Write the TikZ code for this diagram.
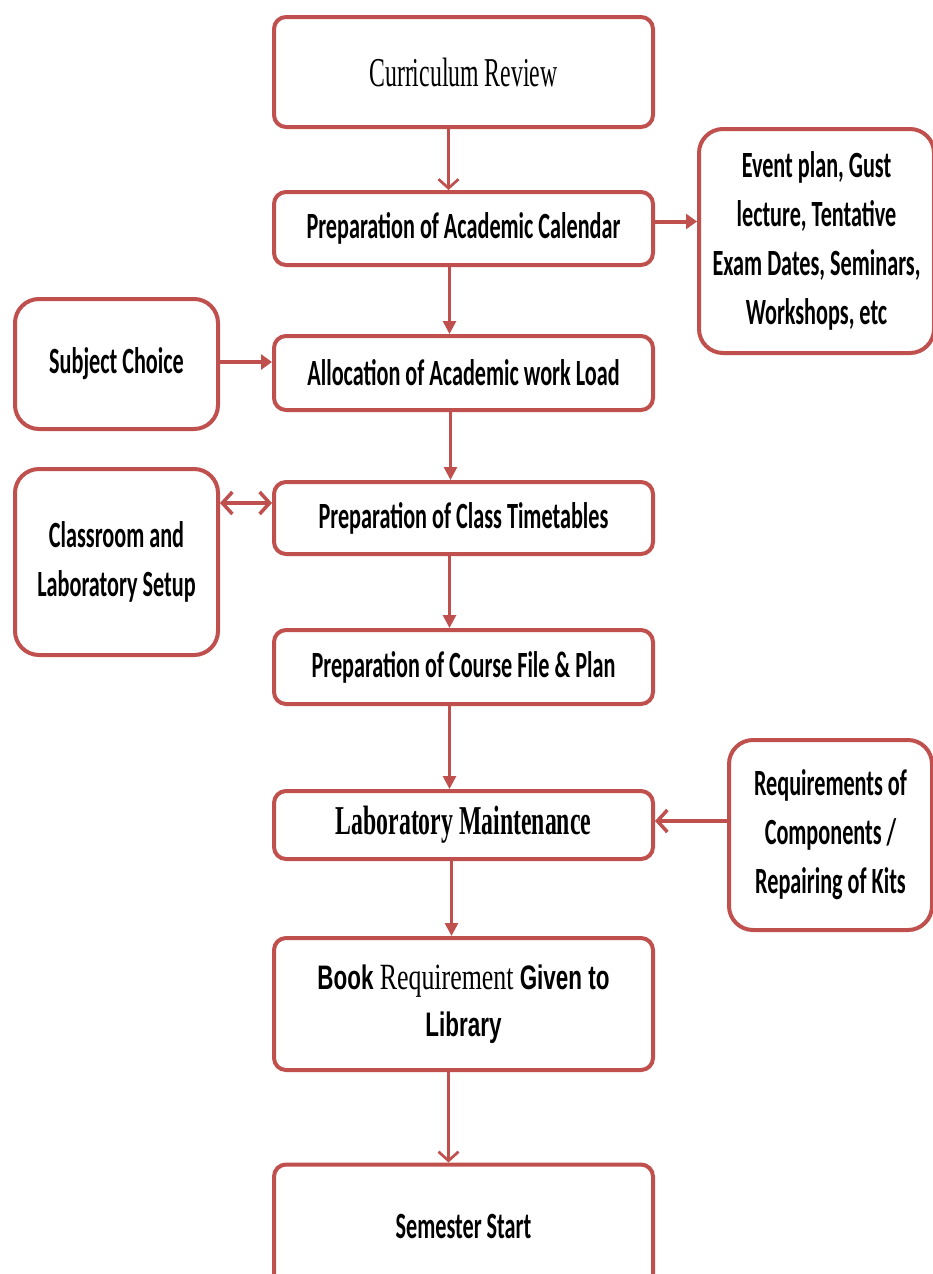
\documentclass[tikz,border=0pt]{standalone}
\usepackage{fontspec}
\usetikzlibrary{arrows.meta}
\setmainfont{Carlito}
\newfontfamily\calb[FakeStretch=0.60]{Carlito}
\newfontfamily\tnr[FakeStretch=0.58]{Liberation Serif}
\newfontfamily\tnrr[FakeStretch=0.70]{Liberation Serif}
\newfontfamily\ari[FakeStretch=0.66]{Liberation Sans}
\definecolor{bred}{HTML}{C0504D}
\tikzset{
  box/.style={draw=bred, line width=4pt, rounded corners=12pt, fill=white, align=center, inner sep=0pt},
  sidebox/.style={box, rounded corners=24pt},
  txt/.style={font=\calb\bfseries\fontsize{37}{49}\selectfont},
  varr/.style={draw=bred, line width=2.7pt, -{Triangle[length=13pt,width=13pt]}},
  varrv/.style={draw=bred, line width=2.7pt, -{Straight Barb[length=9pt,width=20pt,line width=2.7pt]}},
  harr/.style={draw=bred, line width=4pt, -{Triangle[length=11pt,width=15pt]}},
  harrv/.style={draw=bred, line width=4pt, -{Straight Barb[length=10pt,width=22pt,line width=3.5pt]}},
  harrvv/.style={draw=bred, line width=4pt, {Straight Barb[length=10pt,width=22pt,line width=3.5pt]}-{Straight Barb[length=10pt,width=22pt,line width=3.5pt]}}
}
\begin{document}
\begin{tikzpicture}[x=1pt,y=-1pt]
\useasboundingbox[fill=white] (0,0) rectangle (933,1274);
\node[box, font=\tnr\fontsize{41}{49}\selectfont, minimum width=379pt, minimum height=110pt] (cur) at (463.5,72)
  {Curriculum Review};
\node[box, txt, minimum width=379pt, minimum height=73pt] (cal) at (463.5,228.5)
  {Preparation of Academic Calendar};
\node[sidebox, txt, minimum width=235pt, minimum height=224pt] (evt) at (816.5,241)
  {Event plan, Gust\\lecture, Tentative\\Exam Dates, Seminars,\\Workshops, etc};
\node[sidebox, txt, minimum width=203pt, minimum height=130pt] (sub) at (116.5,364)
  {Subject Choice};
\node[box, txt, minimum width=379pt, minimum height=74pt] (alloc) at (463.5,373)
  {Allocation of Academic work Load};
\node[sidebox, txt, minimum width=203pt, minimum height=186pt] (cls) at (116.5,562)
  {Classroom and\\Laboratory Setup};
\node[box, txt, minimum width=379pt, minimum height=72pt] (tt) at (463.5,518)
  {Preparation of Class Timetables};
\node[box, txt, minimum width=379pt, minimum height=74pt] (cf) at (463.5,667)
  {Preparation of Course File \& Plan};
\node[box, font=\tnr\bfseries\fontsize{41}{49}\selectfont, minimum width=379pt, minimum height=68pt] (lab) at (463.5,825)
  {Laboratory Maintenance};
\node[sidebox, txt, minimum width=203pt, minimum height=190pt] (req) at (830.5,835)
  {Requirements of\\Components /\\Repairing of Kits};
\node[box, font=\ari\bfseries\fontsize{34}{47}\selectfont, minimum width=379pt, minimum height=132pt] (book) at (463.5,1004)
  {Book {\tnrr\mdseries\fontsize{37}{47}\selectfont Requirement} Given to\\Library};
\node[box, txt, minimum width=379pt, minimum height=123pt] (sem) at (463.5,1226)
  {Semester Start};
% vertical flow
\draw[varrv] ([xshift=-15pt]cur.south) -- ([xshift=-15pt]cal.north);
\draw[varr] ([xshift=-14pt]cal.south) -- ([xshift=-14pt]alloc.north);
\draw[varr] ([xshift=-13pt]alloc.south) -- ([xshift=-13pt]tt.north);
\draw[varr] ([xshift=-14pt]tt.south) -- ([xshift=-14pt]cf.north);
\draw[varr] ([xshift=-14pt]cf.south) -- ([xshift=-14pt]lab.north);
\draw[varr] ([xshift=-12pt]lab.south) -- ([xshift=-12pt]book.north);
\draw[varrv] ([xshift=-15pt]book.south) -- ([xshift=-15pt]sem.north);
% side arrows
\coordinate (calE) at ([yshift=7pt]cal.east);
\coordinate (allocW) at ([yshift=11pt]alloc.west);
\coordinate (ttW) at ([yshift=15pt]tt.west);
\coordinate (labE) at ([yshift=4pt]lab.east);
\draw[harr] (calE) -- (evt.west |- calE);
\draw[harr] (sub.east |- allocW) -- (allocW);
\draw[harrvv] (cls.east |- ttW) -- (ttW);
\draw[harrv] (req.west |- labE) -- (labE);
\end{tikzpicture}
\end{document}
